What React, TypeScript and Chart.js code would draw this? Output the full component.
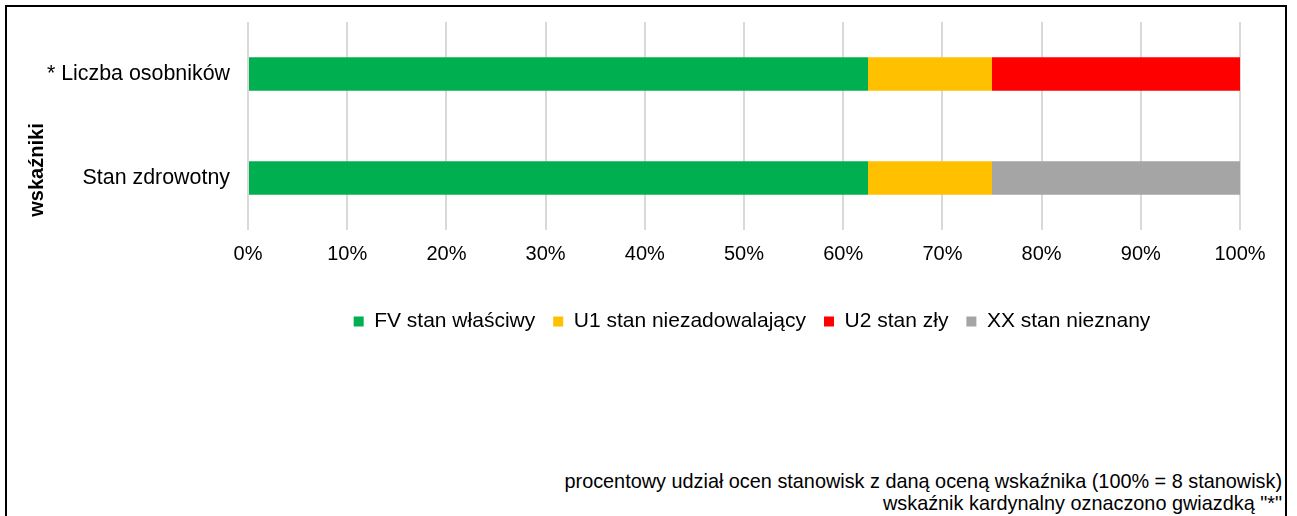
import React, { useEffect, useRef } from "react";
import { Chart, registerables } from "chart.js";

Chart.register(...registerables);

const categories = ["* Liczba osobników", "Stan zdrowotny"];
const seriesNames = ["FV stan właściwy", "U1 stan niezadowalający", "U2 stan zły", "XX stan nieznany"];
const fvValues = [62.5, 62.5];
const u1Values = [12.5, 12.5];
const u2Values = [25, 0];
const xxValues = [0, 25];
const seriesColors = ["#00B050", "#FFC000", "#FF0000", "#A5A5A5"];
const xTicks = [0, 10, 20, 30, 40, 50, 60, 70, 80, 90, 100];
const yTitle = "wskaźniki";
const footerLines = [
  "procentowy udział ocen stanowisk z daną oceną wskaźnika (100% = 8 stanowisk)",
  'wskaźnik kardynalny oznaczono gwiazdką "*"',
];

const FONT = "'Liberation Sans', Arial, sans-serif";

export default function App() {
  const ref = useRef<HTMLCanvasElement | null>(null);

  useEffect(() => {
    if (!ref.current) return;
    Chart.defaults.color = "#000";
    const yTitlePlugin = {
      id: "yTitlePlugin",
      afterLayout(chart: any) {
        if (chart.legend) {
          chart.legend.left += 8;
          chart.legend.right += 8;
        }
      },
      afterDraw(chart: any) {
        const ctx = chart.ctx;
        ctx.save();
        ctx.translate(36, 163);
        ctx.rotate(-Math.PI / 2);
        ctx.font = `bold 20px ${FONT}`;
        ctx.fillStyle = "#000";
        ctx.textAlign = "center";
        ctx.textBaseline = "alphabetic";
        ctx.fillText(yTitle, 0, 0);
        ctx.restore();
      },
    };
    const values = [fvValues, u1Values, u2Values, xxValues];
    const chart = new Chart(ref.current, {
      type: "bar",
      data: {
        labels: categories,
        datasets: seriesNames.map((name, i) => ({
          label: name,
          data: values[i],
          backgroundColor: seriesColors[i],
          borderWidth: 0,
          barPercentage: 0.32,
          categoryPercentage: 1,
        })),
      },
      options: {
        indexAxis: "y",
        responsive: false,
        animation: false,
        devicePixelRatio: 1,
        layout: { padding: { top: 15, left: 0, right: 45, bottom: 0 } },
        plugins: {
          legend: {
            position: "bottom",
            fullSize: false,
            labels: {
              boxWidth: 10,
              boxHeight: 10,
              padding: 18,
              font: { family: FONT, size: 21 },
              color: "#000",
            },
          },
          tooltip: { enabled: false },
        },
        scales: {
          x: {
            stacked: true,
            min: 0,
            max: 100,
            afterBuildTicks(scale: any) {
              scale.ticks = xTicks.map((v) => ({ value: v }));
            },
            afterFit(scale: any) {
              scale.height = 63;
            },
            grid: { color: "#D9D9D9", lineWidth: 2, drawTicks: false },
            border: { display: false },
            ticks: {
              padding: 12,
              font: { family: FONT, size: 20 },
              color: "#000",
              callback: (v: any) => v + "%",
            },
          },
          y: {
            stacked: true,
            afterFit(scale: any) {
              scale.width = 241;
              scale.paddingTop = 0;
              scale.paddingBottom = 0;
            },
            grid: { display: false, drawTicks: false },
            border: { display: false },
            ticks: {
              padding: 18,
              font: { family: FONT, size: 21.4 },
              color: "#000",
            },
          },
        },
      },
      plugins: [yTitlePlugin],
    });
    return () => chart.destroy();
  }, []);

  return (
    <div
      style={{
        position: "absolute",
        left: 5,
        top: 5,
        width: 1278,
        height: 540,
        border: "2px solid #000",
        background: "#fff",
      }}
    >
      <canvas ref={ref} width={1278} height={335} style={{ display: "block", width: 1278, height: 335 }} />
      <div
        style={{
          position: "absolute",
          right: 3,
          top: 463,
          textAlign: "right",
          fontFamily: FONT,
          fontSize: 19.85,
          lineHeight: "22px",
          color: "#000",
          whiteSpace: "nowrap",
        }}
      >
        {footerLines.map((l, i) => (
          <div key={i}>{l}</div>
        ))}
      </div>
    </div>
  );
}
